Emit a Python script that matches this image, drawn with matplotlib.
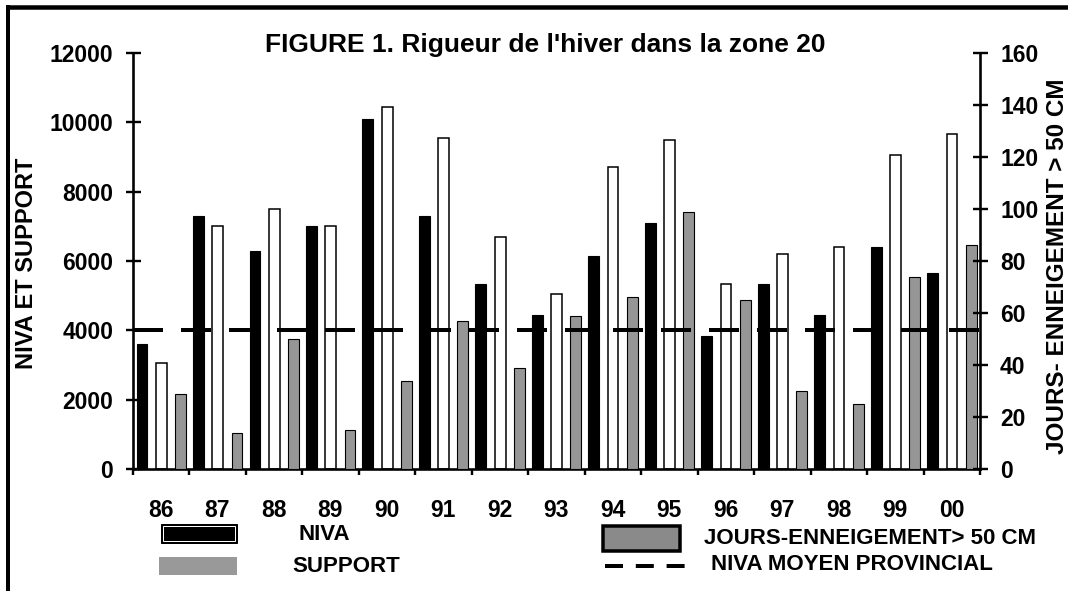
import matplotlib
matplotlib.use("Agg")
import matplotlib.pyplot as plt
from matplotlib.lines import Line2D
from matplotlib.patches import Rectangle
import numpy as np

years = ['86', '87', '88', '89', '90', '91', '92', '93', '94', '95', '96', '97', '98', '99', '00']
niva = [3600, 7300, 6300, 7000, 10100, 7300, 5350, 4450, 6150, 7100, 3850, 5350, 4450, 6400, 5650]
support = [3050, 7000, 7500, 7000, 10450, 9550, 6700, 5050, 8700, 9500, 5350, 6200, 6400, 9050, 9650]
jours = [29, 14, 50, 15, 34, 57, 39, 59, 66, 99, 65, 30, 25, 74, 86]
niva_moyen = 4000
left_ticks = [0, 2000, 4000, 6000, 8000, 10000, 12000]
right_ticks = [0, 20, 40, 60, 80, 100, 120, 140, 160]

plt.rcParams['font.family'] = ['Liberation Sans', 'DejaVu Sans']
plt.rcParams['font.weight'] = 'bold'

W, H = 1068, 591
fig = plt.figure(figsize=(W / 100, H / 100), dpi=100)
PX = 72 / 100  # points per pixel

def fx(x):
    return x / W

def fy(y):
    return 1 - y / H

ax = fig.add_axes([fx(132.7), fy(469), fx(980) - fx(132.7), fy(53) - fy(469)])
ax2 = ax.twinx()

x = np.arange(len(years))
bw = 0.19
ax.bar(x - 0.337, niva, bw, color='black', edgecolor='black', linewidth=0.8)
ax.bar(x + 0.005, support, bw, color='white', edgecolor='black', linewidth=1.1)
ax2.bar(x + 0.345, jours, bw, color='#969696', edgecolor='black', linewidth=0.8)

ax2.plot([-0.5, len(years) - 0.5], [niva_moyen, niva_moyen], color='black',
         lw=4 * PX, dashes=[7.5, 4.5], transform=ax.transData, solid_capstyle='butt',
         dash_capstyle='butt', clip_on=False)

ax.set_xlim(-0.5, len(years) - 0.5)
ax.set_ylim(0, 12000)
ax2.set_ylim(0, 160)

for a in (ax, ax2):
    for s in a.spines.values():
        s.set_visible(False)
ax.spines['left'].set_visible(True)
ax.spines['bottom'].set_visible(True)
ax2.spines['right'].set_visible(True)
for s in (ax.spines['left'], ax.spines['bottom'], ax2.spines['right']):
    s.set_linewidth(2.6 * PX)

ax.set_yticks(left_ticks)
ax.set_yticklabels([str(v) for v in left_ticks])
ax2.set_yticks(right_ticks)
ax2.set_yticklabels([str(v) for v in right_ticks])
ax.tick_params(axis='y', direction='inout', length=15 * PX, width=2.4 * PX,
               pad=12 * PX, labelsize=16.5)
ax2.tick_params(axis='y', direction='inout', length=15 * PX, width=2.4 * PX,
                pad=12.5 * PX, labelsize=16.5)

ax.set_xticks(np.arange(len(years) + 1) - 0.5)
ax.set_xticklabels([])
ax.set_xticks(x, minor=True)
ax.set_xticklabels(years, minor=True)
ax.tick_params(axis='x', which='major', direction='out', length=6 * PX, width=2.4 * PX)
ax.tick_params(axis='x', which='minor', length=0, pad=30 * PX, labelsize=16.5)

fig.text(fx(545), fy(44.7), "FIGURE 1. Rigueur de l'hiver dans la zone 20",
         ha='center', va='center', fontsize=19, fontweight='bold')
fig.text(fx(26.5), fy(263), "NIVA ET SUPPORT", rotation=90, ha='center', va='center',
         fontsize=17, fontweight='bold')
fig.text(fx(1058), fy(266), "JOURS- ENNEIGEMENT > 50 CM", rotation=90, ha='center',
         va='center', fontsize=17.5, fontweight='bold')

# legend (drawn manually)
def rect(x0, y0, x1, y1, **kw):
    r = Rectangle((fx(x0), fy(y1)), fx(x1) - fx(x0), fy(y0) - fy(y1),
                  transform=fig.transFigure, **kw)
    fig.add_artist(r)

rect(160.7, 524, 237, 543, facecolor='black', edgecolor='black', linewidth=1 * PX)
rect(162.5, 526, 235.2, 541, facecolor='none', edgecolor='white', linewidth=1 * PX)
fig.text(fx(299), fy(534), "NIVA", ha='left', va='center', fontsize=16, fontweight='bold')

rect(159, 557, 237, 575, facecolor='#999999', edgecolor='none')
fig.text(fx(292), fy(566), "SUPPORT", ha='left', va='center', fontsize=16, fontweight='bold')

rect(603, 526, 680, 551, facecolor='#8a8a8a', edgecolor='black', linewidth=3.5 * PX)
fig.text(fx(704), fy(538), "JOURS-ENNEIGEMENT> 50 CM", ha='left', va='center',
         fontsize=16, fontweight='bold')

fig.add_artist(Line2D([fx(605), fx(685)], [fy(566), fy(566)], transform=fig.transFigure,
                      color='black', lw=4 * PX, dashes=[4.5, 3.2], dash_capstyle='butt'))
fig.text(fx(711), fy(564), "NIVA MOYEN PROVINCIAL", ha='left', va='center',
         fontsize=16, fontweight='bold')

# outer frame (top and left)
fig.add_artist(Line2D([fx(6), fx(1068)], [fy(7.3), fy(7.3)], transform=fig.transFigure,
                      color='black', lw=4.5 * PX, solid_capstyle='butt'))
fig.add_artist(Line2D([fx(8), fx(8)], [fy(5), fy(591)], transform=fig.transFigure,
                      color='black', lw=4 * PX, solid_capstyle='butt'))

fig.savefig('out.png', dpi=100)
